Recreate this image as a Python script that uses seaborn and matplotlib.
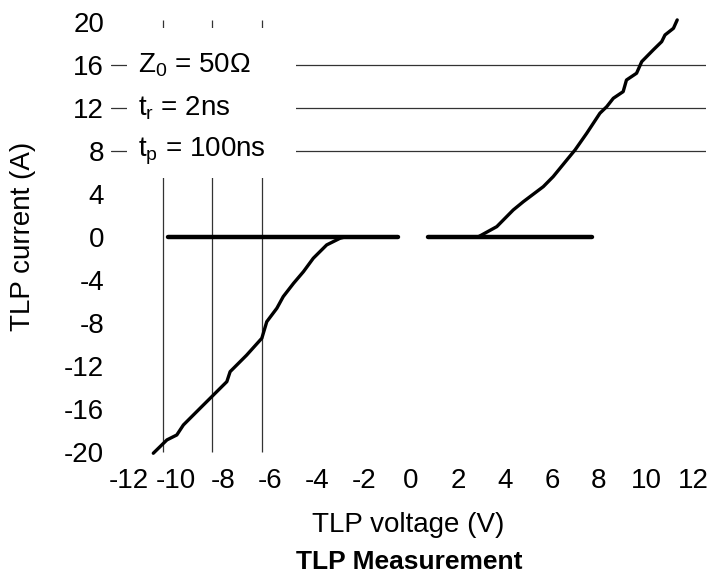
#%% Import library
import numpy as np
import pandas as pd
import matplotlib as mpl
import seaborn as sns

from matplotlib import pyplot as plt
from matplotlib.patches import Rectangle

#%% Data
# negative branch: leakage sweep + snapback curve
neg_zero_v = [-10.34, -0.56]
neg_zero_i = [0, 0]
neg_v = [-2.81, -3.02, -3.59, -4.16, -4.58, -5.00, -5.44, -5.71, -6.14, -6.35,
         -7.00, -7.70, -7.84, -8.41, -8.98, -9.69, -9.97, -10.39, -10.97]
neg_i = [0, -0.12, -0.74, -1.98, -3.23, -4.31, -5.55, -6.63, -7.88, -9.42,
         -11.0, -12.53, -13.46, -14.70, -15.94, -17.49, -18.42, -18.88, -20.12]

# positive branch
pos_zero_v = [0.73, 7.70]
pos_zero_i = [0, 0]
pos_v = [2.85, 3.01, 3.65, 4.35, 4.78, 5.63, 6.05, 6.63, 6.98, 7.48, 8.04,
         8.33, 8.61, 9.03, 9.17, 9.60, 9.82, 10.31, 10.67, 10.81, 11.17, 11.33]
pos_i = [0, 0.19, 0.96, 2.51, 3.28, 4.68, 5.61, 7.16, 8.09, 9.65, 11.51,
         12.12, 12.9, 13.52, 14.6, 15.23, 16.31, 17.4, 18.17, 18.79, 19.41, 20.19]

# reference lines
ref_current = [16, 12, 8]
ref_voltage = [-10.54, -8.47, -6.35]

x_ticks = [-12, -10, -8, -6, -4, -2, 0, 2, 4, 6, 8, 10, 12]
y_ticks = [20, 16, 12, 8, 4, 0, -4, -8, -12, -16, -20]

pulse_labels = [r'Z$_0$ = 50Ω', r't$_r$ = 2ns', r't$_p$ = 100ns']

#%% Set style
sns.set_theme(style='white')
plt.rcParams['font.family'] = ['Liberation Sans', 'DejaVu Sans']
plt.rcParams['mathtext.fontset'] = 'custom'
plt.rcParams['mathtext.rm'] = 'Liberation Sans'
plt.rcParams['mathtext.it'] = 'Liberation Sans'
plt.rcParams['axes.unicode_minus'] = False
plt.rcParams['text.color'] = 'black'
plt.rcParams['axes.labelcolor'] = 'black'
plt.rcParams['xtick.color'] = 'black'
plt.rcParams['ytick.color'] = 'black'

FONT_SIZE = 20

#%% Build tables
df_zero = pd.concat([
    pd.DataFrame({'V': neg_zero_v, 'I': neg_zero_i, 'trace': 'neg'}),
    pd.DataFrame({'V': pos_zero_v, 'I': pos_zero_i, 'trace': 'pos'}),
])
df_curve = pd.concat([
    pd.DataFrame({'V': neg_v, 'I': neg_i, 'trace': 'neg'}),
    pd.DataFrame({'V': pos_v, 'I': pos_i, 'trace': 'pos'}),
])

#%% Plot
fig, ax = plt.subplots(figsize=(7.13, 5.78), dpi=100)
fig.subplots_adjust(left=0.1557, right=0.990, bottom=0.2125, top=0.9713)

for y in ref_current:
    ax.axhline(y, color='#333333', lw=0.9, zorder=1)
for x in ref_voltage:
    ax.vlines(x, -20, 20.2, color='#333333', lw=0.9, zorder=1)

# white box behind the pulse parameters
ax.add_patch(Rectangle((-12.09, 5.5), 7.20, 13.9, facecolor='white',
                       edgecolor='none', zorder=2))
for y, txt in zip(ref_current, pulse_labels):
    ax.text(-11.61, y, txt, fontsize=FONT_SIZE, va='center', ha='left', zorder=3)

sns.lineplot(data=df_zero, x='V', y='I', units='trace', estimator=None,
             sort=False, color='black', lw=3.2, ax=ax, zorder=4)
sns.lineplot(data=df_curve, x='V', y='I', units='trace', estimator=None,
             sort=False, color='black', lw=2.4, ax=ax, zorder=4)

ax.set_xlim(-12.77, 12.55)
ax.set_ylim(-20.3, 20.5)
ax.set_xticks(x_ticks)
ax.set_yticks(y_ticks)
ax.tick_params(axis='both', length=0, labelsize=FONT_SIZE)
ax.tick_params(axis='x', pad=9)
ax.tick_params(axis='y', pad=5)
for s in ax.spines.values():
    s.set_visible(False)

ax.set_xlabel('TLP voltage (V)', fontsize=FONT_SIZE, labelpad=13)
ax.set_ylabel('TLP current (A)', fontsize=FONT_SIZE, labelpad=20)
fig.text(0.574, 0.027, 'TLP Measurement', fontsize=19, fontweight='bold',
         ha='center', va='center')

plt.savefig('out.png', dpi=100)
plt.close()
